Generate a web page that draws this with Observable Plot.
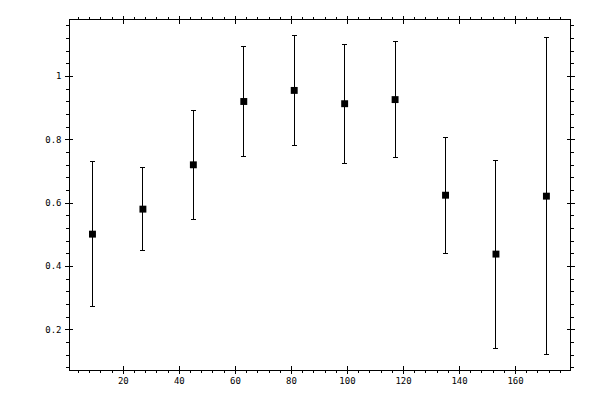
<!DOCTYPE html>
<html>
<head>
<meta charset="utf-8">
<script src="https://cdn.jsdelivr.net/npm/d3@7"></script>
<script src="https://cdn.jsdelivr.net/npm/@observablehq/plot@0.6"></script>
<style>
  html, body { margin: 0; padding: 0; background: white; }
</style>
</head>
<body>
<div id="chart"></div>
<script>
// Data
const xValues = [9, 27, 45, 63, 81, 99, 117, 135, 153, 171];
const yValues = [0.502, 0.581, 0.721, 0.921, 0.956, 0.914, 0.927, 0.625, 0.439, 0.622];
const yErrors = [0.229, 0.131, 0.173, 0.174, 0.175, 0.188, 0.182, 0.183, 0.297, 0.500];

// Tick values
const xMajorTicks = [20, 40, 60, 80, 100, 120, 140, 160];
const xMinorTicks = d3.range(1, 45).map(i => i * 4);
const yMajorTicks = [0.2, 0.4, 0.6, 0.8, 1];
const yMinorTicks = d3.range(2, 30).map(i => +(i * 0.04).toFixed(2));

const data = xValues.map((x, i) => ({x, y: yValues[i], e: yErrors[i]}));

const capSymbol = {
  draw(context) {
    context.moveTo(-2.5, 0);
    context.lineTo(2.5, 0);
  }
};

const fmt = d3.format("~g");
const crisp = {shapeRendering: "crispEdges"};

const chart = Plot.plot({
  width: 600,
  height: 400,
  marginLeft: 69,
  marginRight: 30,
  marginTop: 19,
  marginBottom: 30,
  style: {fontFamily: "'DejaVu Sans Mono', monospace", fontSize: "9px", background: "white", color: "black"},
  x: {domain: [0.8, 179.6]},
  y: {domain: [0.0713, 1.18]},
  marks: [
    // minor ticks (outward)
    Plot.axisX(xMinorTicks, {anchor: "bottom", tickSize: 3, text: null, label: null, ...crisp}),
    Plot.axisX(xMinorTicks, {anchor: "top", tickSize: 3, text: null, label: null, ...crisp}),
    Plot.axisY(yMinorTicks, {anchor: "left", tickSize: 3, text: null, label: null, ...crisp}),
    Plot.axisY(yMinorTicks, {anchor: "right", tickSize: 3, text: null, label: null, ...crisp}),
    // major ticks (crossing the frame)
    Plot.axisX(xMajorTicks, {anchor: "bottom", tickSize: 8, dy: -4, text: null, label: null, ...crisp}),
    Plot.axisX(xMajorTicks, {anchor: "top", tickSize: 8, dy: 4, text: null, label: null, ...crisp}),
    Plot.axisY(yMajorTicks, {anchor: "left", tickSize: 8, dx: 4, text: null, label: null, ...crisp}),
    Plot.axisY(yMajorTicks, {anchor: "right", tickSize: 8, dx: -4, text: null, label: null, ...crisp}),
    // labels
    Plot.axisX(xMajorTicks, {anchor: "bottom", tickSize: 0, tickPadding: 7, tickFormat: fmt, label: null}),
    Plot.axisY(yMajorTicks, {anchor: "left", tickSize: 0, tickPadding: 8, tickFormat: fmt, label: null}),
    Plot.frame({stroke: "black", ...crisp}),
    // error bars
    Plot.ruleX(data, {x: "x", y1: d => d.y - d.e, y2: d => d.y + d.e, stroke: "black", strokeWidth: 1, ...crisp}),
    Plot.dot(data, {x: "x", y: d => d.y + d.e, symbol: capSymbol, stroke: "black", fill: "none", strokeWidth: 1, ...crisp}),
    Plot.dot(data, {x: "x", y: d => d.y - d.e, symbol: capSymbol, stroke: "black", fill: "none", strokeWidth: 1, ...crisp}),
    // markers
    Plot.dot(data, {x: "x", y: "y", symbol: "square", r: 3.9, fill: "black", stroke: "none"})
  ]
});

document.getElementById("chart").appendChild(chart);
</script>
</body>
</html>
